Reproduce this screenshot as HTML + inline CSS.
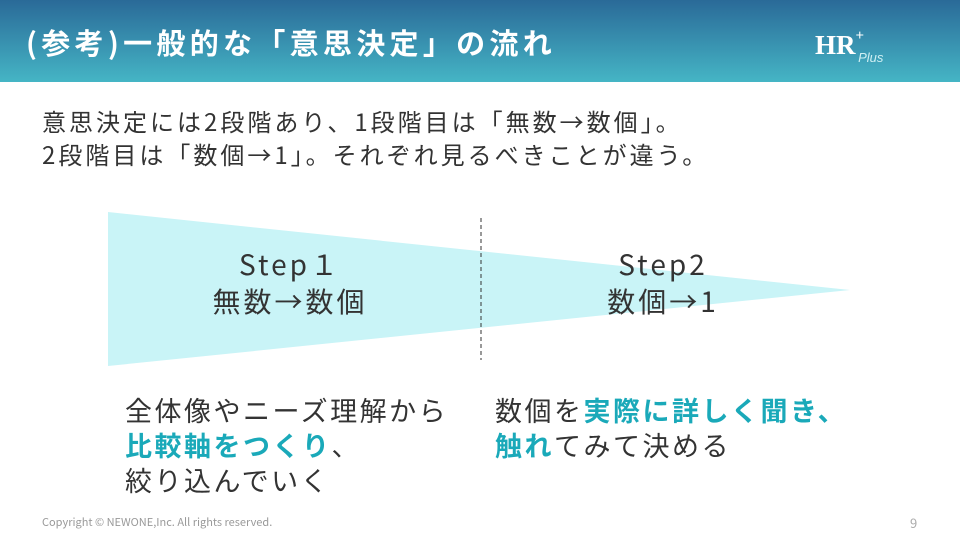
<!DOCTYPE html>
<html><head><meta charset="utf-8"><style>
*{margin:0;padding:0;box-sizing:border-box}
body{width:960px;height:540px;background:#fff;position:relative;overflow:hidden;font-family:"Noto Sans CJK JP","Liberation Sans",sans-serif;color:#333}
.hdr{position:absolute;left:0;top:0;width:960px;height:82px;background:linear-gradient(#2a6a98,#45b5c5)}
.hdr .t{position:absolute;left:26px;top:20px;font-size:29px;font-weight:bold;color:#fff;letter-spacing:4.3px;line-height:44px}
.hdr .lg{position:absolute;left:815px;top:30px;color:#fff;font-family:"Liberation Serif",serif;font-weight:bold;font-size:27px}
.hdr .lg small{font-family:"Liberation Sans",sans-serif;font-weight:normal;font-size:13px;font-style:italic;color:#cfeff3}
.abs{position:absolute;white-space:nowrap}
.b{color:#1aa9b9;font-weight:bold}
</style></head><body>
<div class="hdr"><div class="t">(参考)一般的な「意思決定」の流れ</div>
<div class="lg">HR<sup style="font-size:15px;position:relative;top:-4px">+</sup><small style="position:relative;left:-6px;top:8px">Plus</small></div></div>
<div class="abs" style="left:42px;top:104px;font-size:24px;line-height:33px;letter-spacing:3px">意思決定には2段階あり、1段階目は「無数→数個」。<br>2段階目は「数個→1」。それぞれ見るべきことが違う。</div>
<svg class="abs" style="left:0;top:0" width="960" height="540">
<polygon points="108,212 850,290 108,366" fill="#c9f4f7"/>
<line x1="481" y1="218" x2="481" y2="360" stroke="#333" stroke-width="1" stroke-dasharray="4,3"/>
</svg>
<div class="abs" style="left:190px;top:246px;width:200px;text-align:center;font-size:28px;line-height:37px;letter-spacing:3px">Step１<br>無数→数個</div>
<div class="abs" style="left:563px;top:246px;width:200px;text-align:center;font-size:28px;line-height:37px;letter-spacing:3px">Step2<br>数個→1</div>
<div class="abs" style="left:125px;top:392px;font-size:27px;line-height:35px;letter-spacing:2.5px">全体像やニーズ理解から<br><span class="b">比較軸をつくり</span>、<br>絞り込んでいく</div>
<div class="abs" style="left:495px;top:392px;font-size:27px;line-height:35px;letter-spacing:2.5px">数個を<span class="b">実際に詳しく聞き、</span><br><span class="b">触れ</span>てみて決める</div>
<div class="abs" style="left:42px;top:514px;font-size:11px;color:#999">Copyright © NEWONE,Inc. All rights reserved.</div>
<div class="abs" style="left:910px;top:513px;font-size:13px;color:#aaa">9</div>
</body></html>
